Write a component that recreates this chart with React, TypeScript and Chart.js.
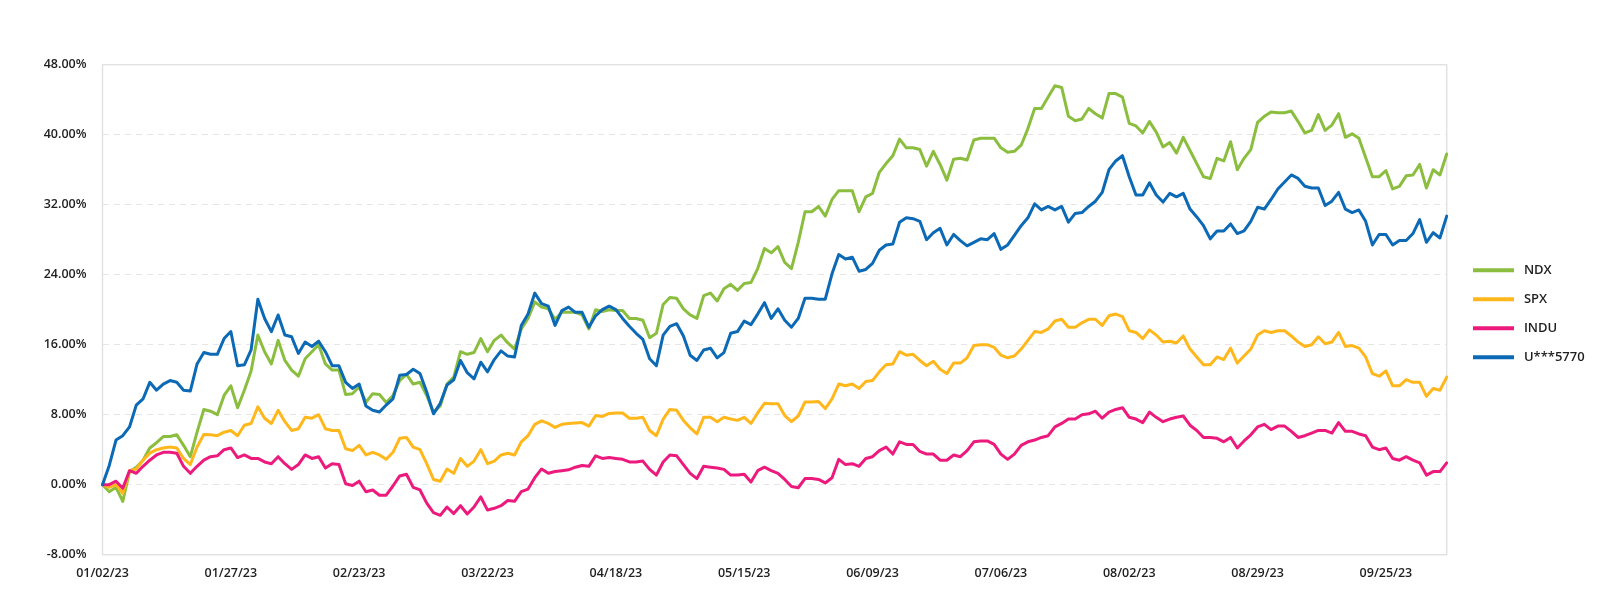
import React, { useEffect, useRef } from 'react';
import { Chart, registerables } from 'chart.js';

Chart.register(...registerables);

// ---- Data -------------------------------------------------------------
const FIRST_DAY = { year: 2023, month: 0, day: 2 };
const POINT_COUNT = 200;

const TICK_LABELS = [
  '01/02/23', '01/27/23', '02/23/23', '03/22/23', '04/18/23', '05/15/23',
  '06/09/23', '07/06/23', '08/02/23', '08/29/23', '09/25/23',
];

const SERIES_NAMES = ['NDX', 'SPX', 'INDU', 'U***5770'];
const SERIES_COLORS = ['#8BBE3F', '#FFB71B', '#EC1A7D', '#0B69B5'];

const NDX = [
  0, -0.8, -0.3, -1.9, 1.5, 2.0, 2.8, 4.2, 4.8, 5.5,
  5.5, 5.7, 4.5, 3.2, 6.0, 8.6, 8.4, 8.0, 10.2, 11.3,
  8.8, 10.8, 13.0, 17.1, 15.2, 13.8, 16.5, 14.2, 13.1, 12.4,
  14.4, 15.2, 16.0, 13.8, 13.1, 13.1, 10.3, 10.4, 11.2, 9.4,
  10.4, 10.3, 9.4, 10.2, 11.9, 12.6, 11.5, 11.7, 10.2, 8.3,
  9.0, 11.5, 12.3, 15.2, 14.9, 15.1, 16.7, 15.2, 16.5, 17.1,
  16.2, 15.5, 17.8, 19.0, 20.9, 20.3, 20.1, 18.9, 19.7, 19.7,
  19.7, 19.4, 17.8, 20.0, 19.8, 20.0, 19.9, 19.9, 19.0, 19.0,
  18.8, 16.8, 17.3, 20.6, 21.4, 21.3, 20.1, 19.4, 19.0, 21.6,
  21.9, 21.0, 22.4, 22.9, 22.2, 23.0, 23.1, 24.7, 27.0, 26.5,
  27.2, 25.4, 24.7, 27.7, 31.2, 31.2, 31.8, 30.7, 32.6, 33.6,
  33.6, 33.6, 31.2, 32.9, 33.3, 35.7, 36.7, 37.6, 39.5, 38.5,
  38.5, 38.3, 36.4, 38.1, 36.6, 34.8, 37.2, 37.3, 37.1, 39.4,
  39.6, 39.6, 39.6, 38.5, 38.0, 38.1, 38.8, 40.7, 43.0, 43.0,
  44.3, 45.6, 45.4, 42.1, 41.6, 41.8, 43.0, 42.4, 41.9, 44.7,
  44.7, 44.3, 41.3, 41.0, 40.2, 41.5, 40.3, 38.6, 39.1, 37.9,
  39.7, 38.2, 36.7, 35.2, 35.0, 37.3, 37.0, 39.2, 36.0, 37.3,
  38.3, 41.4, 42.1, 42.6, 42.5, 42.5, 42.7, 41.5, 40.2, 40.5,
  42.3, 40.5, 41.1, 42.4, 39.7, 40.1, 39.6, 37.4, 35.2, 35.2,
  35.9, 33.8, 34.1, 35.3, 35.4, 36.6, 33.9, 36.0, 35.4, 37.8,
];

const SPX = [
  0, -0.3, 0, -1.0, 1.6, 1.8, 2.8, 3.6, 4.0, 4.2,
  4.3, 4.2, 3.0, 2.3, 4.3, 5.75, 5.7, 5.6, 6.0, 6.2,
  5.6, 6.8, 7.0, 8.9, 7.6, 7.0, 8.5, 7.2, 6.2, 6.4,
  7.7, 7.6, 8.0, 6.4, 6.2, 6.2, 4.1, 3.9, 4.5, 3.4,
  3.7, 3.4, 2.9, 3.7, 5.3, 5.4, 4.3, 4.0, 2.4, 0.6,
  0.4, 1.8, 1.3, 3.0, 2.1, 2.7, 4.0, 2.4, 2.7, 3.4,
  3.6, 3.4, 4.9, 5.6, 6.9, 7.3, 7.0, 6.55, 6.9, 7.0,
  7.05, 7.1, 6.7, 7.9, 7.8, 8.15, 8.2, 8.2, 7.6, 7.6,
  7.7, 6.2, 5.6, 7.5, 8.6, 8.5, 7.35, 6.5, 5.8, 7.7,
  7.7, 7.2, 7.7, 7.5, 7.35, 7.7, 7.0, 8.2, 9.3, 9.25,
  9.25, 7.9, 7.2, 7.85, 9.45, 9.45, 9.5, 8.7, 9.8, 11.5,
  11.3, 11.5, 11.0, 11.8, 11.9, 12.9, 13.7, 13.8, 15.2, 14.8,
  14.9, 14.2, 13.6, 14.1, 13.2, 12.7, 13.9, 13.9, 14.5, 15.9,
  16.0, 16.0, 15.7, 14.8, 14.5, 14.7, 15.5, 16.5, 17.5, 17.4,
  17.8, 18.7, 18.9, 18.0, 18.0, 18.5, 18.9, 18.9, 18.2, 19.3,
  19.5, 19.2, 17.6, 17.4, 16.7, 17.7, 17.1, 16.3, 16.4, 16.2,
  17.0, 15.5, 14.6, 13.7, 13.7, 14.6, 14.3, 15.6, 13.9, 14.7,
  15.5, 17.1, 17.6, 17.4, 17.6, 17.6, 17.0, 16.3, 15.8, 16.0,
  16.9, 16.1, 16.3, 17.4, 15.8, 15.9, 15.6, 14.6, 12.7, 12.4,
  13.0, 11.3, 11.3, 12.0, 11.7, 11.7, 10.1, 11.0, 10.8, 12.3,
];

const INDU = [
  0, 0, 0.4, -0.4, 1.6, 1.3, 2.1, 2.8, 3.4, 3.7,
  3.7, 3.6, 2.1, 1.3, 2.1, 2.8, 3.2, 3.3, 4.0, 4.2,
  3.1, 3.4, 3.0, 3.0, 2.6, 2.4, 3.2, 2.4, 1.75, 2.3,
  3.4, 3.0, 3.2, 1.9, 2.4, 2.3, 0.1, -0.1, 0.4, -0.8,
  -0.6, -1.2, -1.2, -0.15, 1.0, 1.2, -0.3, -0.6, -2.1, -3.2,
  -3.5, -2.55, -3.3, -2.4, -3.35, -2.55, -1.4, -2.9, -2.7, -2.4,
  -1.8, -1.9, -0.8, -0.5, 0.8, 1.8, 1.3, 1.5, 1.6, 1.7,
  2.0, 2.2, 2.1, 3.3, 3.0, 3.1, 3.0, 2.9, 2.6, 2.6,
  2.7, 1.75, 1.1, 2.6, 3.4, 3.3, 2.3, 1.3, 0.7, 2.1,
  2.0, 1.9, 1.75, 1.1, 1.1, 1.2, 0.3, 1.6, 2.0, 1.6,
  1.3, 0.6, -0.2, -0.35, 0.7, 0.7, 0.6, 0.2, 0.8, 2.9,
  2.3, 2.4, 2.1, 3.0, 3.2, 3.9, 4.3, 3.5, 4.9, 4.6,
  4.6, 3.8, 3.5, 3.5, 2.8, 2.8, 3.4, 3.2, 3.9, 4.9,
  5.0, 5.0, 4.6, 3.5, 2.9, 3.5, 4.5, 4.9, 5.1, 5.4,
  5.6, 6.6, 7.0, 7.5, 7.5, 8.0, 8.1, 8.4, 7.6, 8.3,
  8.6, 8.8, 7.7, 7.5, 7.1, 8.3, 7.7, 7.2, 7.5, 7.7,
  7.85, 6.8, 6.2, 5.4, 5.4, 5.3, 4.9, 5.4, 4.2, 5.0,
  5.7, 6.6, 6.9, 6.3, 6.7, 6.7, 6.1, 5.4, 5.6, 5.9,
  6.2, 6.2, 5.9, 7.1, 6.1, 6.1, 5.8, 5.6, 4.3, 4.0,
  4.2, 3.0, 2.8, 3.2, 2.8, 2.5, 1.1, 1.5, 1.5, 2.5,
];

const U5770 = [
  0, 2.2, 5.1, 5.6, 6.6, 9.1, 9.8, 11.7, 10.8, 11.5,
  11.9, 11.7, 10.8, 10.7, 13.8, 15.1, 14.9, 14.9, 16.7, 17.5,
  13.6, 13.7, 15.4, 21.2, 19.0, 17.5, 19.4, 17.1, 16.9, 15.0,
  16.3, 15.8, 16.4, 15.2, 13.6, 13.6, 11.7, 11.0, 11.5, 9.0,
  8.5, 8.3, 9.1, 9.8, 12.5, 12.6, 13.2, 12.7, 10.6, 8.1,
  9.3, 11.4, 12.0, 14.2, 12.8, 12.1, 14.0, 12.9, 14.3, 15.3,
  14.7, 14.6, 18.2, 19.5, 21.9, 20.7, 20.4, 18.2, 19.9, 20.3,
  19.7, 19.7, 18.0, 19.3, 20.0, 20.4, 20.0, 19.0, 18.1, 17.3,
  16.6, 14.4, 13.6, 17.1, 18.1, 18.4, 17.0, 14.8, 14.2, 15.4,
  15.6, 14.5, 15.1, 17.3, 17.5, 18.7, 18.3, 19.5, 20.8, 19.0,
  20.1, 18.8, 18.0, 19.0, 21.3, 21.3, 21.2, 21.2, 24.1, 26.3,
  25.8, 26.0, 24.4, 24.6, 25.3, 26.8, 27.4, 27.5, 30.0, 30.5,
  30.4, 30.1, 28.0, 28.8, 29.3, 27.4, 28.6, 27.9, 27.3, 27.7,
  28.1, 28.0, 28.7, 26.9, 27.4, 28.5, 29.6, 30.5, 32.1, 31.4,
  31.8, 31.4, 31.8, 30.0, 31.0, 31.1, 31.8, 32.4, 33.4, 36.0,
  37.0, 37.6, 35.2, 33.1, 33.1, 34.5, 33.1, 32.3, 33.3, 32.9,
  33.3, 31.5, 30.6, 29.6, 28.1, 29.0, 29.0, 29.8, 28.7, 29.0,
  30.1, 31.7, 31.5, 32.6, 33.8, 34.6, 35.4, 35.0, 34.1, 33.9,
  33.9, 31.9, 32.4, 33.4, 31.5, 31.1, 31.4, 30.1, 27.4, 28.6,
  28.6, 27.4, 27.9, 27.9, 28.7, 30.3, 27.7, 28.8, 28.2, 30.7,
];

const Y_MIN = -8;
const Y_MAX = 48;
const Y_STEP = 8;

// Trading-day category labels (weekdays) starting from the first day
function weekdayLabels(count: number): string[] {
  const out: string[] = [];
  const d = new Date(Date.UTC(FIRST_DAY.year, FIRST_DAY.month, FIRST_DAY.day));
  while (out.length < count) {
    const wd = d.getUTCDay();
    if (wd !== 0 && wd !== 6) {
      const mm = String(d.getUTCMonth() + 1).padStart(2, '0');
      const dd = String(d.getUTCDate()).padStart(2, '0');
      const yy = String(d.getUTCFullYear() % 100).padStart(2, '0');
      out.push(`${mm}/${dd}/${yy}`);
    }
    d.setUTCDate(d.getUTCDate() + 1);
  }
  return out;
}
const CATEGORIES = weekdayLabels(POINT_COUNT);

const SERIES_VALUES = [NDX, SPX, INDU, U5770];
// later series are drawn on top
const SERIES_ORDER = [3, 2, 1, 0];

// ---- Layout / style ---------------------------------------------------
const W = 1584;
const H = 594;
const FONT = '"Open Sans", "Noto Sans", sans-serif';
const TEXT = '#1f1f1f';

const framePlugin = {
  id: 'frame',
  beforeDatasetsDraw(chart: any) {
    const { ctx, chartArea: a } = chart;
    ctx.save();
    ctx.strokeStyle = '#e2e2e2';
    ctx.lineWidth = 1.5;
    ctx.strokeRect(a.left, a.top, a.right - a.left, a.bottom - a.top);
    ctx.restore();
  },
};

export default function App() {
  const ref = useRef<HTMLCanvasElement | null>(null);

  useEffect(() => {
    if (!ref.current) return;
    const chart = new Chart(ref.current, {
      type: 'line',
      data: {
        labels: CATEGORIES,
        datasets: SERIES_NAMES.map((name, i) => ({
          label: name,
          data: SERIES_VALUES[i],
          borderColor: SERIES_COLORS[i],
          backgroundColor: SERIES_COLORS[i],
          borderWidth: 3,
          pointRadius: 0,
          pointHoverRadius: 0,
          tension: 0,
          fill: false,
          order: SERIES_ORDER[i],
          borderJoinStyle: 'round' as const,
          borderCapStyle: 'round' as const,
        })),
      },
      plugins: [framePlugin],
      options: {
        responsive: false,
        animation: false,
        layout: { padding: { top: 56.7, bottom: 21.3, left: 0, right: 0 } },
        plugins: {
          tooltip: { enabled: false },
          legend: {
            position: 'right',
            align: 'center',
            fullSize: false,
            maxWidth: 135,
            title: { display: true, text: '', padding: 0, font: { size: 6.667 } },
            labels: {
              boxWidth: 41,
              boxHeight: 4,
              padding: 16,
              color: TEXT,
              font: { family: FONT, size: 13, weight: 600 },
              sort: (a: any, b: any) => a.datasetIndex - b.datasetIndex,
              generateLabels: (c: any) =>
                Chart.defaults.plugins.legend.labels
                  .generateLabels(c)
                  .map((l: any) => ({ ...l, text: ' ' + l.text, lineWidth: 0 })),
            },
          },
        },
        scales: {
          x: {
            type: 'category',
            offset: false,
            grid: { display: false, drawTicks: false },
            border: { display: false },
            ticks: {
              autoSkip: false,
              maxRotation: 0,
              minRotation: 0,
              padding: 11.5,
              color: TEXT,
              font: { family: FONT, size: 12.5, weight: 600 },
              callback: function (this: any, value: any) {
                const lab = this.getLabelForValue(value);
                return TICK_LABELS.includes(lab) ? lab : null;
              },
            },
            afterFit: (s: any) => {
              s.height = 26;
            },
          },
          y: {
            type: 'linear',
            position: 'left',
            min: Y_MIN,
            max: Y_MAX,
            grid: { color: '#e6e6e6', lineWidth: 1, drawTicks: false },
            border: { display: false, dash: [6, 5] },
            ticks: {
              stepSize: Y_STEP,
              padding: 16,
              color: TEXT,
              font: { family: FONT, size: 12.5, weight: 600 },
              callback: (v: any) => Number(v).toFixed(2) + '%',
            },
            afterFit: (s: any) => {
              s.width = 94.5;
            },
          },
          gap: {
            type: 'linear',
            position: 'right',
            display: true,
            grid: { display: false, drawTicks: false },
            border: { display: false },
            ticks: { display: false },
            afterFit: (s: any) => {
              s.width = 10.3;
            },
          },
        },
      },
    } as any);
    return () => chart.destroy();
  }, []);

  return (
    <div style={{ width: W, height: H }}>
      <canvas ref={ref} width={W} height={H} style={{ display: 'block' }} />
    </div>
  );
}
